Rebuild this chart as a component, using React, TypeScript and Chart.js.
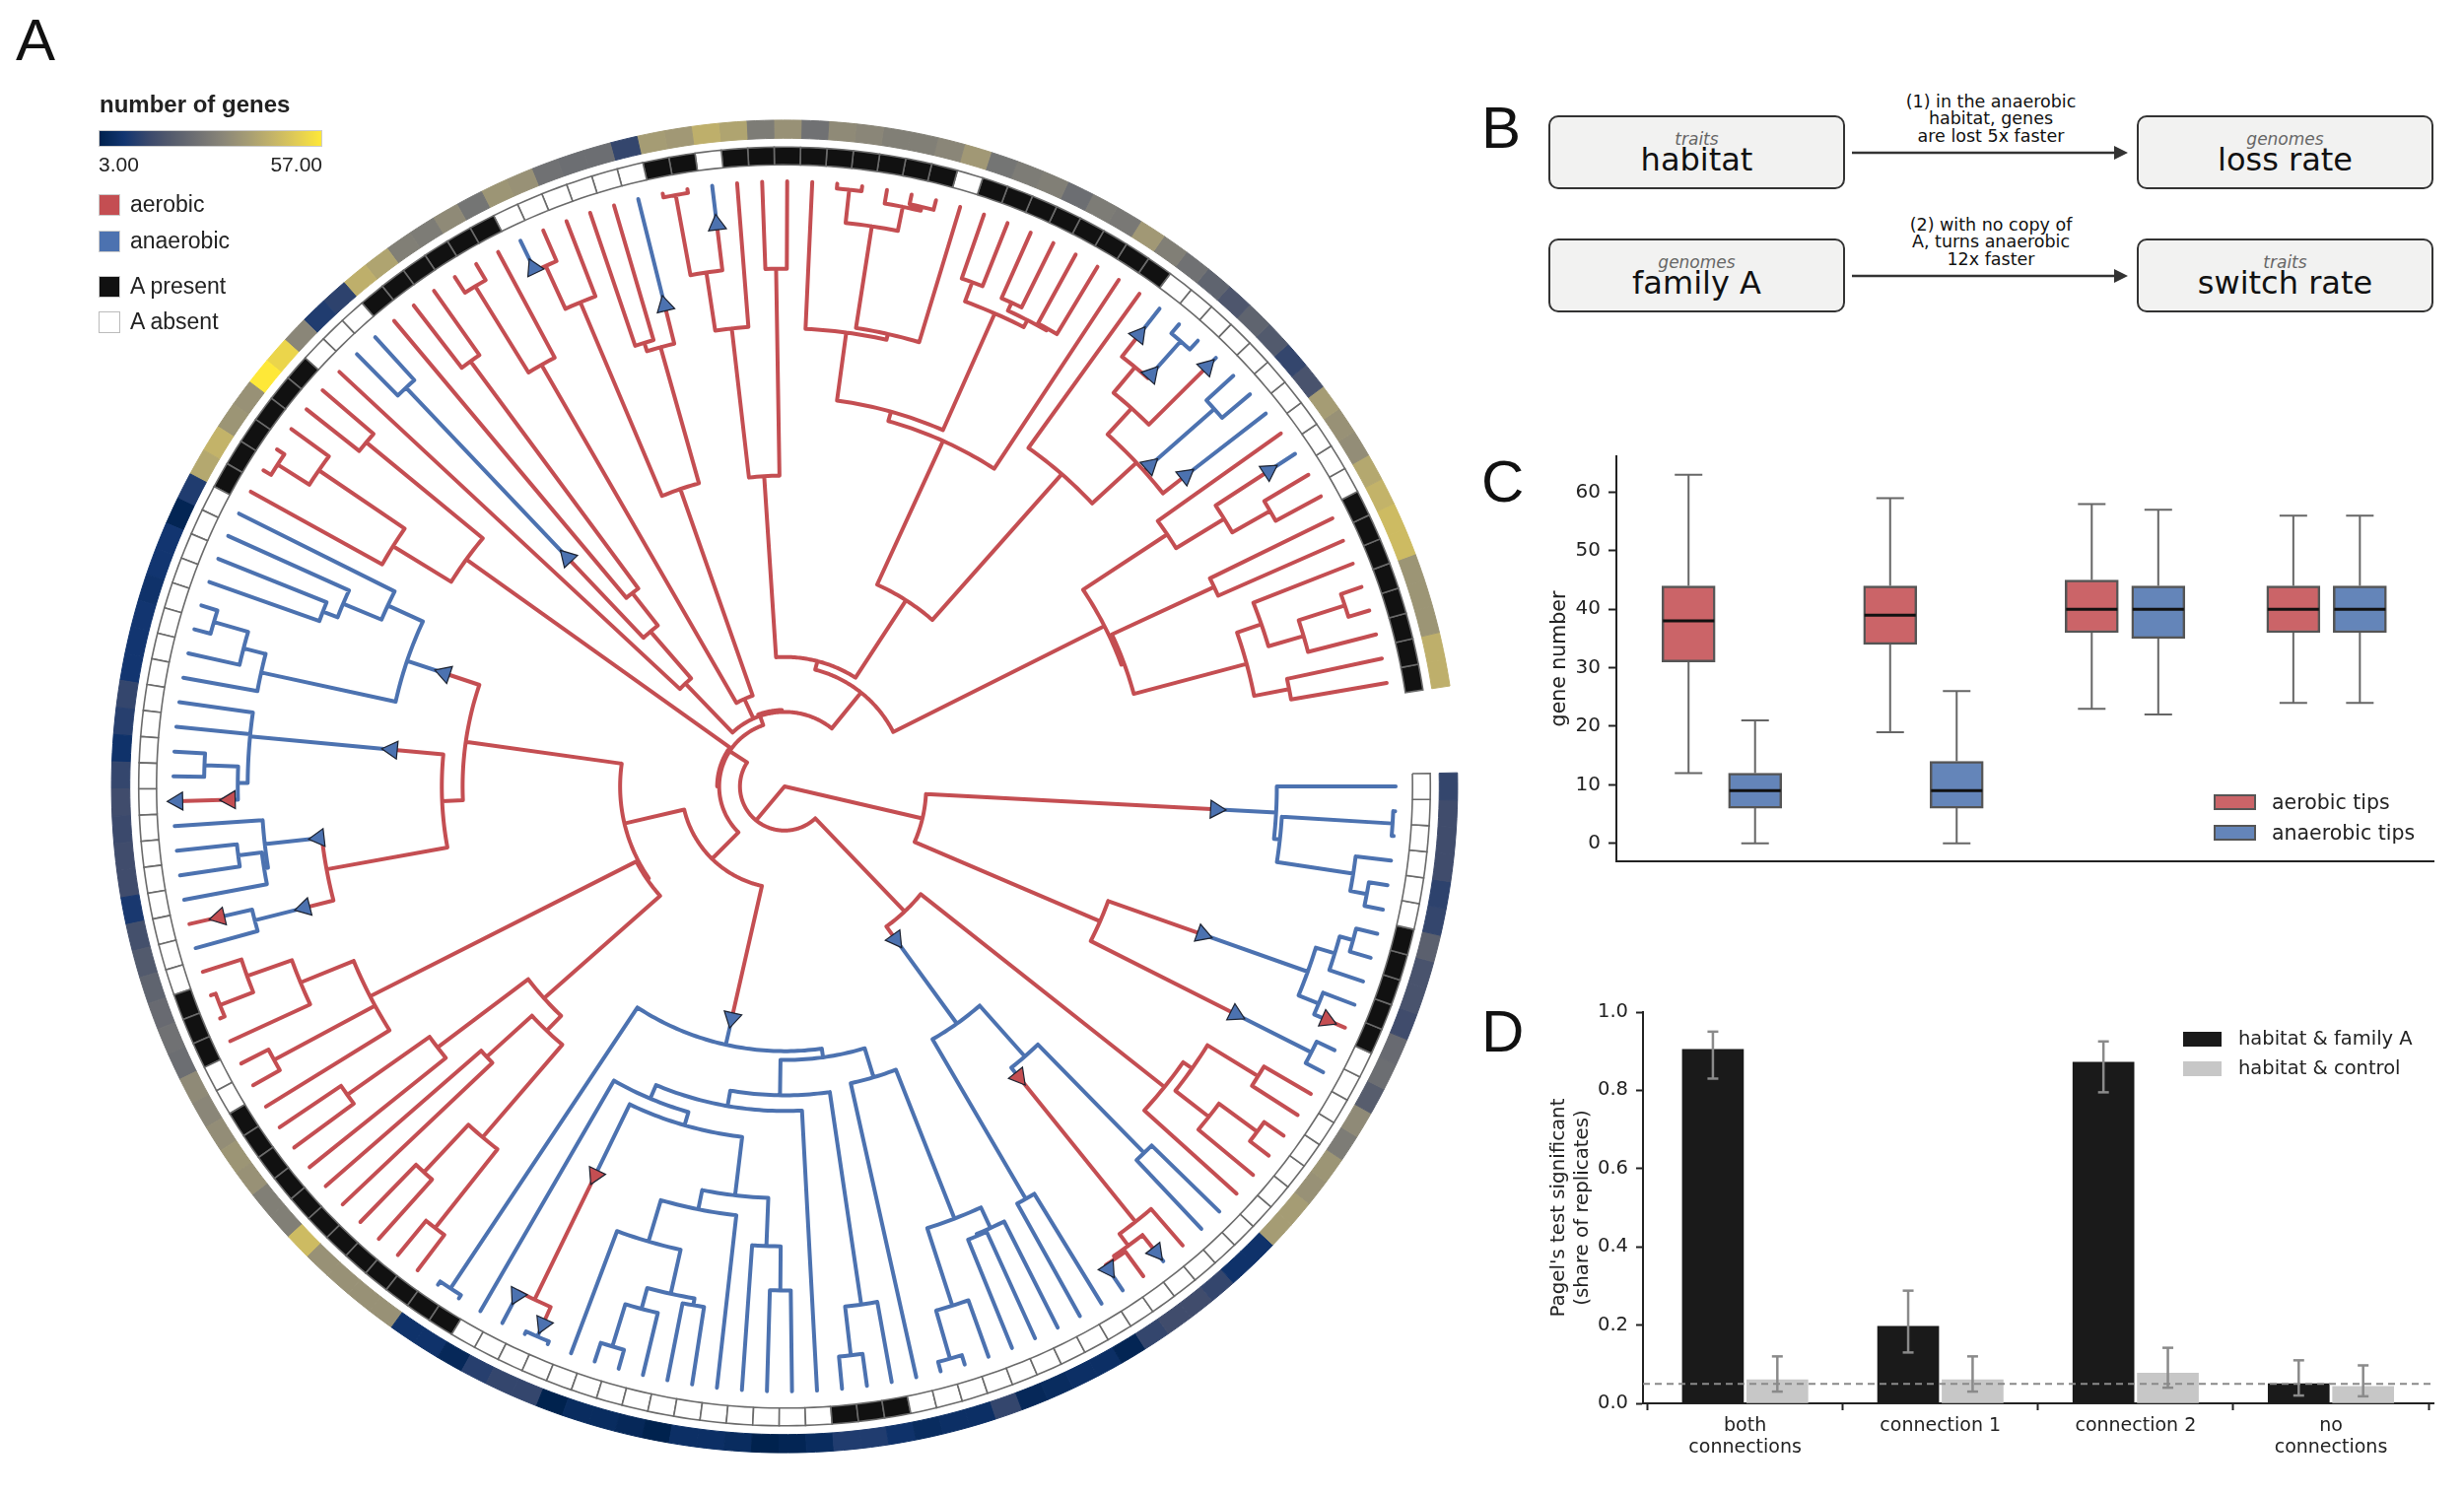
import React, { useEffect, useRef } from "react";
import { Chart, registerables } from "chart.js";
Chart.register(...registerables);

// ---------- Panel A data ----------
type Clade = { r?: number; kids?: Clade[]; sw?: number[]; a?: number };
const t: Clade = {};
const n = (r: number, ...kids: Clade[]): Clade => ({ r, kids });
const s = (sw: number, c: Clade): Clade => ({ ...c, sw: [sw, ...(c.sw || [])] });
const at = (a: number, c: Clade): Clade => ({ ...c, a });

const cladeRightTop = n(143,
  s(436, n(497, t, n(503, n(615, t, t), n(581, t, n(598, t, t))))),
  n(347,
    s(448, n(561, n(581, n(595, t, t), t), n(583, t, s(597, t)))),
    s(511, n(597, t, t))));
const cladeRightBottom = n(176,
  n(491, n(502, n(562, t, t), n(545, n(593, t, t), t)), t),
  s(192, n(298,
    n(367, n(521, t, t), s(379, n(568, t, n(583, s(605, t), n(586, t, s(591, t)))))),
    n(486, t, t))));
const cladeBottom = s(242, n(270,
  n(279,
    n(310, n(473, n(496, t, n(498, t, t)), n(556, t, n(607, t, t))), t),
    n(315,
      n(534, t, n(584, t, t)),
      n(331, t, n(346,
        n(360,
          n(420,
            n(469, n(514, t, t), t),
            n(440, t, n(484, n(530, n(537, t, t), n(552, t, n(597, t, t))), t))),
          s(440, n(581, s(600, n(614, t, t)), s(585, t)))),
        t)))),
  n(613, t, t)));
const cladeLeft = n(166,
  n(168,
    n(325,
      n(346, n(470, n(572, t, t), n(536, t, t)), n(408, t, t)),
      n(440, t, n(542, t, t))),
    n(470, t, n(586, t, t), n(528, t, n(576, n(612, t, t), t)))),
  n(325,
    n(346,
      n(470, s(500, n(552, t, s(586, t))), s(473, n(528, n(532, t, n(556, t, t)), t))),
      s(398, at(185.4, n(542, n(552, s(560, s(613, t)), n(586, t, t)), t, t)))),
    s(362, n(402,
      n(541, t, n(564, t, n(600, t, t))),
      n(441, n(483, n(499, t, t), t), t)))));
const cladeUpperLeft = n(396, n(465, t, n(570, n(608, t, t), t)), n(549, t, t));
const cladeUpperA = n(145, t, n(208, s(320, n(558, t, t)), n(250, t, n(537, t, t))));
const cladeUpperB = n(98,
  n(495, n(598, t, t), t),
  n(321, n(535, n(583, s(586, t), t), t), n(465, n(474, t, t), s(505, t))));
const cladeTop = n(132,
  n(317, n(470, n(530, n(613, t, t), s(577, t)), t), n(528, t, t)),
  n(226,
    n(387,
      n(397,
        n(467, t, n(473, n(578, n(612, t, t), n(603, t, n(607, t, t))), t)),
        n(527, n(548, t, t), n(535, n(544, t, t), n(537, t, t)))),
      t),
    n(424, t, n(485,
      n(521, n(555, s(583, t), s(560, n(605, t, t))), s(604, t)),
      s(493, n(580, t, t)),
      s(514, t)))));
const cladeTopRight = n(362,
  n(464, t, n(521, s(585, t), n(565, t, t))),
  n(365, n(479, t, t), n(483, n(509, t, n(546, n(595, t, t), t)), n(519, t, t))));
const treeRoot = n(0,
  cladeRightTop,
  n(45,
    cladeRightBottom,
    at(213, n(66,
      n(104, cladeBottom, cladeLeft),
      cladeUpperLeft,
      at(251, n(76, cladeUpperA, cladeUpperB, n(123, cladeTop, cladeTopRight)))))));
const shortBranchArcs = [[68, 180, 213], [78, 250, 268]];

const geneCounts = [14,16,16,16,13,14,22,18,18,16,25,26,21,34,30,37,36,39,39,
  8,8,14,16,16,14,4,7,7,6,5,14,7,7,6,8,11,11,6,4,3,6,7,7,3,5,6,6,3,14,14,12,5,8,8,
  36,36,36,36,47,31,31,36,37,35,33,34,26,27,25,23,20,17,10,16,16,15,16,14,8,12,14,9,9,9,8,9,9,4,11,
  42,45,37,36,57,53,33,11,13,44,41,31,30,34,28,37,36,27,26,26,14,39,38,44,41,30,36,27,34,33,31,31,33,38,28,30,31,26,30,29,38,31,27,23,19,23,20,14,18,39,36,35,42,45,47,47,37,37,37,44,44];
const familyARuns = [[0,6],[1,5],[0,23],[1,3],[0,15],[1,12],[0,2],[1,3],[0,20],[1,6],[0,3],[1,6],[0,6],[1,2],[0,1],[1,9],[0,1],[1,8],[0,11],[1,8]];
const cividis = ["#00224e","#123570","#3b496c","#575d6d","#707173","#8a8678","#a59c74","#c3b369","#e1cc55","#fee838"];
const geneMin = 3, geneMax = 57;
const tipStep = 2.35, tipRadius = 617;
const presenceRing = [634, 652], heatRing = [661, 679.5];
const RED = "#c44e52", BLUE = "#4c72b0";

// ---------- Panel C data ----------
const boxAerobic = [[12,31,38,44,63],[19,34,39,44,59],[23,36,40,45,58],[24,36,40,44,56]];
const boxAnaerobic = [[0,6,9,12,21],[0,6,9,14,26],[22,35,40,44,57],[24,36,40,44,56]];
const yTicksC = [0,10,20,30,40,50,60];

// ---------- Panel D data ----------
const categoriesD = [["both","connections"],["connection 1"],["connection 2"],["no","connections"]];
const familyA = [0.905,0.197,0.872,0.05];
const familyAErr = [[0.83,0.95],[0.13,0.288],[0.795,0.925],[0.02,0.11]];
const control = [0.06,0.06,0.077,0.043];
const controlErr = [[0.03,0.12],[0.03,0.12],[0.04,0.142],[0.018,0.097]];
const yTicksD = [0,0.2,0.4,0.6,0.8,1];

// ---------- helpers ----------
function hexToRgb(h: string) { return [1,3,5].map(i => parseInt(h.slice(i,i+2),16)); }
function geneColor(v: number) {
  const f = Math.max(0, Math.min(1, (v-geneMin)/(geneMax-geneMin))) * (cividis.length-1);
  const i = Math.min(cividis.length-2, Math.floor(f));
  const a = hexToRgb(cividis[i]), b = hexToRgb(cividis[i+1]);
  const m = a.map((c,k)=>Math.round(c+(b[k]-c)*(f-i)));
  return `rgb(${m[0]},${m[1]},${m[2]})`;
}
const polar = (deg: number, r: number) => {
  const a = deg*Math.PI/180;
  return { x: r*Math.cos(a), y: -r*Math.sin(a) };
};
function buildTree() {
  const lines: Record<string, any[]> = { r: [], b: [] };
  const marks: any[] = [];
  let counter = 0;
  const place = (c: Clade): any => {
    if (!c.kids) { const i = counter++; return { ...c, r: tipRadius, angle: i*tipStep, kids: null }; }
    const kids = c.kids.map(place);
    const angle = c.a ?? (kids[0].angle + kids[kids.length-1].angle)/2;
    return { ...c, kids, angle };
  };
  const gap = { x: null, y: null };
  const addArc = (col: string, r: number, a0: number, a1: number) => {
    const steps = Math.max(1, Math.ceil(Math.abs(a1-a0)/0.75));
    for (let i=0;i<=steps;i++) lines[col].push(polar(a0+(a1-a0)*i/steps, r));
    lines[col].push(gap);
  };
  const walk = (c: any, from: number, colIn: string) => {
    let col = colIn, r0 = from;
    for (const sw of c.sw || []) {
      lines[col].push(polar(c.angle, r0), polar(c.angle, sw), gap);
      col = col === "r" ? "b" : "r";
      marks.push({ ...polar(c.angle, sw), rot: c.angle+90, col });
      r0 = sw;
    }
    lines[col].push(polar(c.angle, r0), polar(c.angle, c.r), gap);
    if (c.kids) {
      addArc(col, c.r, c.kids[0].angle, c.kids[c.kids.length-1].angle);
      c.kids.forEach((k: any) => walk(k, c.r, col));
    }
  };
  walk(place(treeRoot), 0, "r");
  shortBranchArcs.forEach(([r,a0,a1]) => addArc("r", r, a0, a1));
  return { lines, marks };
}
function cellPolygon(i: number, ring: number[]) {
  const a0 = (i-0.5)*tipStep, a1 = (i+0.5)*tipStep;
  const pts: any[] = [];
  for (let k=0;k<=3;k++) pts.push(polar(a0+(a1-a0)*k/3, ring[0]));
  for (let k=3;k>=0;k--) pts.push(polar(a0+(a1-a0)*k/3, ring[1]));
  pts.push(pts[0]);
  return pts;
}
const LABEL = "'DejaVu Sans'";
const INK = "#222";
const solid = [100000, 1];

function axisStyle(tickLength: number, extra: any) {
  return {
    border: { color: INK, width: 2 },
    grid: { drawOnChartArea: false, drawTicks: true, tickLength, color: INK, tickWidth: 2 },
    ...extra,
  };
}
const noPad = (s: any) => { s.paddingTop = 0; s.paddingBottom = 0; s.paddingLeft = 0; s.paddingRight = 0; };
function seg(x0: number, y0: number, x1: number, y1: number, color: string, width: number, order = 0) {
  return { type: "line", data: [{x:x0,y:y0},{x:x1,y:y1}], borderColor: color, borderWidth: width, pointRadius: 0, order, borderDash: solid };
}

export default function App() {
  const a = useRef<HTMLCanvasElement>(null);
  const c = useRef<HTMLCanvasElement>(null);
  const d = useRef<HTMLCanvasElement>(null);
  useEffect(() => {
    document.body.style.margin = "0";
    const { lines, marks } = buildTree();
    const present: number[] = [];
    familyARuns.forEach(([v,k]) => { for (let i=0;i<k;i++) present.push(v); });
    const cells: any[] = [];
    geneCounts.forEach((v,i) => {
      const col = geneColor(v);
      cells.push({ data: cellPolygon(i, heatRing), showLine: true, borderColor: col, backgroundColor: col, borderWidth: 1, fill: "shape", pointRadius: 0, borderDash: solid, order: 5 });
    });
    present.forEach((v,i) => {
      cells.push({ data: cellPolygon(i, presenceRing), showLine: true, borderColor: "#6a6a6a", backgroundColor: v ? "#111111" : "#ffffff", borderWidth: 1.6, fill: "shape", pointRadius: 0, borderDash: solid, order: 4 });
    });
    const treeStyle = { pointRadius: 0, borderWidth: 4, borderCapStyle: "round", borderJoinStyle: "round", fill: false, borderDash: solid, spanGaps: false };
    const chartA = new Chart(a.current!, {
      type: "scatter",
      data: { datasets: [
        { data: marks, showLine: false, pointStyle: "triangle", pointRadius: 10.5,
          pointRotation: marks.map(m=>m.rot), pointBackgroundColor: marks.map(m=>m.col==="r"?RED:BLUE),
          pointBorderColor: "#1c2230", pointBorderWidth: 1.2, order: 0 },
        { data: lines.r, showLine: true, borderColor: RED, order: 1, ...treeStyle },
        { data: lines.b, showLine: true, borderColor: BLUE, order: 2, ...treeStyle },
        ...cells,
      ] as any },
      options: {
        animation: false, responsive: false, events: [], devicePixelRatio: 1,
        layout: { padding: 0, autoPadding: false },
        plugins: { legend: { display: false }, tooltip: { enabled: false } },
        scales: {
          x: { type: "linear", display: false, min: -796/1.005, max: (1500-796)/1.005 },
          y: { type: "linear", display: false, min: -(1516-798)/0.995, max: 798/0.995 },
        },
      } as any,
    });

    // Panel C
    const off = 0.165, capC = 14/204.5;
    const dsC: any[] = [];
    const addBoxes = (rows: number[][], sign: number, fill: string) => {
      dsC.push({ type: "bar", data: rows.map((b,g)=>({ x: g+sign*off, y: [b[1],b[3]] })), backgroundColor: fill,
        borderColor: "#555", borderWidth: 2.5, borderSkipped: false, barThickness: 54, grouped: false, order: 2 });
      rows.forEach((b,g) => {
        const x = g+sign*off;
        dsC.push(seg(x,b[0],x,b[1],"#666",2), seg(x,b[3],x,b[4],"#666",2),
          seg(x-capC,b[0],x+capC,b[0],"#666",2), seg(x-capC,b[4],x+capC,b[4],"#666",2),
          seg(x-26/204.5,b[2],x+26/204.5,b[2],"#111",3));
      });
    };
    addBoxes(boxAerobic, -1, "#cb6468");
    addBoxes(boxAnaerobic, 1, "#6485b9");
    const chartC = new Chart(c.current!, {
      type: "bar",
      data: { datasets: dsC },
      options: {
        animation: false, responsive: false, events: [], devicePixelRatio: 1,
        layout: { padding: { top: 12.7, right: 6, left: 0, bottom: 0 }, autoPadding: false },
        plugins: { legend: { display: false }, tooltip: { enabled: false } },
        scales: {
          x: { type: "linear", min: -0.523, max: 3.53, offset: false,
            border: { color: INK, width: 2 }, grid: { display: false, drawTicks: false }, ticks: { display: false },
            afterFit: (s: any) => { s.height = 25.7; noPad(s); } },
          y: axisStyle(8, { type: "linear", min: -3.13, max: 66.2,
            afterBuildTicks: (s: any) => { s.ticks = yTicksC.map(value => ({ value })); },
            afterFit: (s: any) => { s.width = 70; noPad(s); },
            ticks: { color: INK, padding: 8, font: { family: LABEL, size: 20 } },
            title: { display: true, text: "gene number", color: INK, padding: 0, font: { family: LABEL, size: 20.5 } } }),
        },
      } as any,
    });

    // Panel D
    const offD = 0.165, capD = 5.5/198;
    const dsD: any[] = [];
    const bars = (vals: number[], errs: number[][], sign: number, fill: string) => {
      dsD.push({ type: "bar", data: vals.map((v,g)=>({ x: g+sign*offD, y: v })), backgroundColor: fill, barThickness: 62, grouped: false, order: 3 });
      errs.forEach(([lo,hi],g) => {
        const x = g+sign*offD;
        dsD.push(seg(x,lo,x,hi,"#8a8a8a",2.5,1), seg(x-capD,lo,x+capD,lo,"#8a8a8a",2.5,1), seg(x-capD,hi,x+capD,hi,"#8a8a8a",2.5,1));
      });
    };
    bars(familyA, familyAErr, -1, "#1a1a1a");
    bars(control, controlErr, 1, "#c7c7c7");
    dsD.push({ type: "line", data: [{x:-0.523,y:0.05},{x:3.525,y:0.05}], borderColor: "#8a8a8a", borderWidth: 2, borderDash: [7,5], pointRadius: 0, order: 0 });
    const chartD = new Chart(d.current!, {
      type: "bar",
      data: { datasets: dsD },
      options: {
        animation: false, responsive: false, events: [], devicePixelRatio: 1,
        layout: { padding: { top: 11, right: 6, left: 0, bottom: 0 }, autoPadding: false },
        plugins: { legend: { display: false }, tooltip: { enabled: false } },
        scales: {
          x: axisStyle(7, { type: "linear", min: -0.523, max: 3.525, offset: false,
            afterBuildTicks: (s: any) => { s.ticks = categoriesD.map((_,value) => ({ value })); },
            afterFit: (s: any) => { s.height = 92; noPad(s); },
            ticks: { color: INK, padding: 5, maxRotation: 0, autoSkip: false,
              callback: (v: number) => categoriesD[v], font: { family: LABEL, size: 19, lineHeight: 1.16 } } }),
          y: axisStyle(7, { type: "linear", min: 0, max: 1,
            afterBuildTicks: (s: any) => { s.ticks = yTicksD.map(value => ({ value })); },
            afterFit: (s: any) => { s.width = 100; noPad(s); },
            ticks: { color: INK, padding: 8, callback: (v: number) => v.toFixed(1), font: { family: LABEL, size: 19.5 } },
            title: { display: true, text: ["Pagel's test significant","(share of replicates)"], color: INK, padding: { top: 3, bottom: 0 }, font: { family: LABEL, size: 19.8 } } }),
        },
      } as any,
    });
    return () => { chartA.destroy(); chartC.destroy(); chartD.destroy(); };
  }, []);

  const abs = (left: number, top: number, extra: any = {}): any => ({ position: "absolute", left, top, ...extra });
  const sans = "'Liberation Sans'";
  const panelLabel = (txt: string, left: number, top: number) =>
    <div style={abs(left, top, { font: `60px/1 ${sans}`, color: "#111" })}>{txt}</div>;
  const legendRow = (txt: string, top: number, color: string, border: string) => (
    <React.Fragment key={txt}>
      <div style={abs(100, top, { width: 22, height: 22, background: color, border, boxSizing: "border-box" })} />
      <div style={abs(132, top - 4, { font: `23px/28px ${sans}`, color: "#222" })}>{txt}</div>
    </React.Fragment>
  );
  const box = (left: number, top: number, small: string, big: string) => (
    <div key={big} style={abs(left, top, { width: 301, height: 75, boxSizing: "border-box", background: "#f2f2f1", border: "2px solid #333", borderRadius: 10 })}>
      <div style={{ position: "absolute", left: 0, right: 0, top: 12, textAlign: "center", font: `italic 17px/20px ${LABEL}`, color: "#666" }}>{small}</div>
      <div style={{ position: "absolute", left: 0, right: 0, top: 24, textAlign: "center", font: `32px/38px ${LABEL}`, color: "#111" }}>{big}</div>
    </div>
  );
  const note = (top: number, rows: string[]) => (
    <div key={rows[0]} style={abs(1820, top, { width: 400, textAlign: "center", font: `17.5px/17.4px ${LABEL}`, color: "#111" })}>
      {rows.map(r => <div key={r}>{r}</div>)}
    </div>
  );
  const arrow = (top: number) => (
    <svg key={top} style={abs(1879, top - 10)} width={280} height={20}>
      <line x1={0} y1={10} x2={268} y2={10} stroke="#333" strokeWidth={2.5} />
      <polygon points="266,3 280,10 266,17" fill="#333" />
    </svg>
  );
  const legendC = (txt: string, top: number, color: string) => (
    <React.Fragment key={txt}>
      <div style={abs(2246, top, { width: 43, height: 16, background: color, border: "2px solid #555", boxSizing: "border-box" })} />
      <div style={abs(2305, top - 4, { font: `20.5px/24px ${LABEL}`, color: "#222" })}>{txt}</div>
    </React.Fragment>
  );
  const legendD = (txt: string, top: number, color: string) => (
    <React.Fragment key={txt}>
      <div style={abs(2215, top, { width: 39, height: 14.5, background: color })} />
      <div style={abs(2271, top - 5, { font: `19.5px/24px ${LABEL}`, color: "#222" })}>{txt}</div>
    </React.Fragment>
  );

  return (
    <div style={abs(0, 0, { width: 2500, height: 1516, background: "#fff", overflow: "hidden" })}>
      <canvas ref={a} width={1500} height={1516} style={abs(0, 0)} />
      <canvas ref={c} width={905} height={450} style={abs(1570, 450)} />
      <canvas ref={d} width={908} height={500} style={abs(1567, 1016)} />

      {panelLabel("A", 16, 11)}
      {panelLabel("B", 1503, 100)}
      {panelLabel("C", 1503, 459)}
      {panelLabel("D", 1503, 1017)}

      <div style={abs(101, 92, { font: `bold 24px/28px ${sans}`, color: "#222" })}>number of genes</div>
      <div style={abs(100, 132, { width: 227, height: 17, boxSizing: "border-box", border: "1px solid #ccc", background: `linear-gradient(to right, ${cividis.join(",")})` })} />
      <div style={abs(100, 155, { font: `21px/24px ${sans}`, color: "#222" })}>3.00</div>
      <div style={abs(227, 155, { width: 100, textAlign: "right", font: `21px/24px ${sans}`, color: "#222" })}>57.00</div>
      {legendRow("aerobic", 197, RED, "1px solid #ccc")}
      {legendRow("anaerobic", 234, BLUE, "1px solid #ccc")}
      {legendRow("A present", 280, "#111", "1px solid #ccc")}
      {legendRow("A absent", 316, "#fff", "1px solid #bbb")}

      {box(1571, 117, "traits", "habitat")}
      {box(2168, 117, "genomes", "loss rate")}
      {box(1571, 242, "genomes", "family A")}
      {box(2168, 242, "traits", "switch rate")}
      {note(95, ["(1) in the anaerobic", "habitat, genes", "are lost 5x faster"])}
      {note(220, ["(2) with no copy of", "A, turns anaerobic", "12x faster"])}
      {arrow(155)}
      {arrow(280)}

      {legendC("aerobic tips", 806, "#cb6468")}
      {legendC("anaerobic tips", 837, "#6485b9")}
      {legendD("habitat & family A", 1047, "#1a1a1a")}
      {legendD("habitat & control", 1077, "#c7c7c7")}
    </div>
  );
}
